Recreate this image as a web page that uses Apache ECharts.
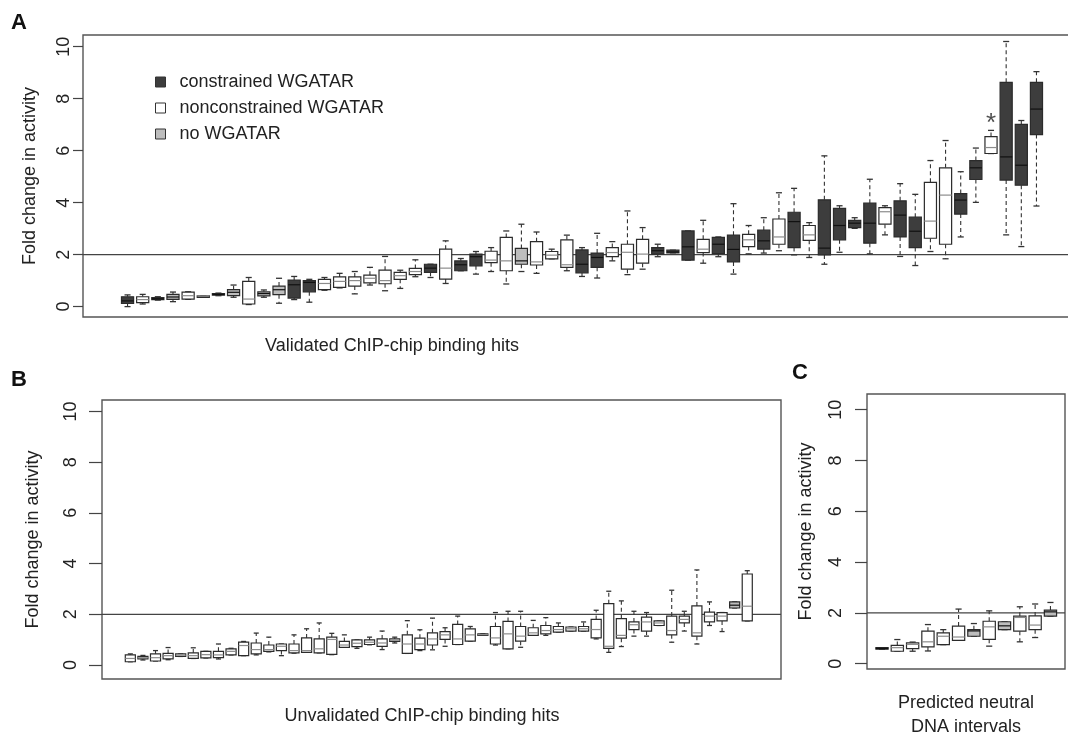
<!DOCTYPE html>
<html>
<head>
<meta charset="utf-8">
<title>Fold change in activity</title>
<script src="https://cdn.jsdelivr.net/npm/echarts@6/dist/echarts.min.js"></script>
<style>
  html, body { margin: 0; padding: 0; background: #fff; overflow: hidden; }
  /* panel A's frame runs past the right edge of the picture, as in the original crop */
  #chart { width: 1100px; height: 738px; }
</style>
</head>
<body>
<div id="chart"></div>
<script>
// each box: [low whisker, Q1, median, Q3, high whisker]
const boxesA = [
  [0.00, 0.12, 0.22, 0.38, 0.45], [0.10, 0.15, 0.27, 0.38, 0.47], [0.25, 0.27, 0.30, 0.35, 0.38],
  [0.19, 0.28, 0.37, 0.47, 0.56], [0.28, 0.29, 0.42, 0.56, 0.57], [0.39, 0.40, 0.41, 0.41, 0.42],
  [0.42, 0.44, 0.47, 0.50, 0.52], [0.36, 0.42, 0.55, 0.65, 0.83], [0.08, 0.10, 0.29, 0.97, 1.12],
  [0.36, 0.41, 0.50, 0.57, 0.64], [0.13, 0.46, 0.65, 0.79, 1.09], [0.27, 0.33, 0.84, 1.02, 1.16],
  [0.17, 0.57, 0.93, 1.00, 1.05], [0.63, 0.65, 0.89, 1.05, 1.12], [0.72, 0.74, 0.97, 1.14, 1.28],
  [0.49, 0.79, 1.00, 1.14, 1.35], [0.83, 0.91, 1.09, 1.21, 1.51], [0.61, 0.88, 1.00, 1.40, 1.93],
  [0.70, 1.05, 1.19, 1.32, 1.40], [1.15, 1.23, 1.35, 1.47, 1.80], [1.12, 1.32, 1.48, 1.63, 1.63],
  [0.89, 1.06, 1.48, 2.21, 2.53], [1.38, 1.38, 1.61, 1.76, 1.85], [1.25, 1.57, 1.92, 2.02, 2.12],
  [1.35, 1.69, 1.79, 2.13, 2.27], [0.87, 1.38, 1.76, 2.66, 2.91], [1.35, 1.63, 1.76, 2.24, 3.17],
  [1.28, 1.60, 1.72, 2.50, 2.87], [1.84, 1.84, 1.98, 2.12, 2.21], [1.38, 1.51, 1.61, 2.57, 2.75],
  [1.16, 1.30, 1.63, 2.18, 2.27], [1.10, 1.51, 1.89, 2.06, 2.82], [1.76, 1.92, 2.08, 2.27, 2.50],
  [1.23, 1.44, 2.09, 2.40, 3.68], [1.44, 1.67, 2.02, 2.59, 3.04], [1.92, 2.02, 2.15, 2.27, 2.40],
  [2.07, 2.07, 2.10, 2.17, 2.17], [1.79, 1.79, 2.30, 2.91, 2.91], [1.67, 2.08, 2.21, 2.59, 3.32],
  [1.92, 2.04, 2.40, 2.66, 2.68], [1.25, 1.72, 2.20, 2.75, 3.96], [2.03, 2.31, 2.57, 2.78, 3.12],
  [2.06, 2.21, 2.53, 2.94, 3.42], [2.15, 2.40, 2.68, 3.37, 4.38], [1.99, 2.27, 3.27, 3.63, 4.55],
  [1.89, 2.55, 2.76, 3.12, 3.23], [1.63, 1.99, 2.25, 4.11, 5.80], [2.09, 2.57, 3.12, 3.78, 3.88],
  [3.01, 3.04, 3.21, 3.32, 3.42], [2.03, 2.44, 3.21, 3.98, 4.90], [2.76, 3.17, 3.65, 3.81, 3.88],
  [1.93, 2.68, 3.52, 4.07, 4.73], [1.58, 2.27, 2.90, 3.44, 4.32], [2.12, 2.63, 3.29, 4.78, 5.62],
  [1.84, 2.40, 4.29, 5.34, 6.39], [2.68, 3.56, 4.10, 4.35, 5.19], [4.01, 4.89, 5.34, 5.62, 6.10],
  [5.89, 5.89, 6.12, 6.54, 6.78], [2.76, 4.87, 5.76, 8.63, 10.20], [2.31, 4.67, 5.44, 7.01, 7.16],
  [3.87, 6.62, 7.60, 8.63, 9.04]
];
// c = constrained WGATAR, n = nonconstrained WGATAR, x = no WGATAR
const groupsA = [
  'c','n','c','x','n','n','c','x','n','x',
  'x','c','c','n','n','n','n','n','n','n',
  'c','n','c','c','n','n','x','n','n','n',
  'c','c','n','n','n','c','c','c','n','c',
  'c','n','c','n','c','n','c','c','c','c',
  'n','c','c','n','n','c','c','n','c','c',
  'c'
];
const starA = [58, 7.05];

const boxesB = [
  [0.13, 0.13, 0.26, 0.40, 0.44], [0.20, 0.24, 0.29, 0.34, 0.38], [0.16, 0.16, 0.29, 0.44, 0.57],
  [0.21, 0.24, 0.37, 0.46, 0.69], [0.34, 0.34, 0.39, 0.44, 0.44], [0.26, 0.26, 0.37, 0.48, 0.68],
  [0.28, 0.28, 0.41, 0.54, 0.54], [0.24, 0.29, 0.40, 0.54, 0.83], [0.40, 0.40, 0.54, 0.64, 0.66],
  [0.37, 0.37, 0.77, 0.90, 0.93], [0.40, 0.44, 0.61, 0.87, 1.26], [0.52, 0.54, 0.61, 0.79, 1.10],
  [0.37, 0.57, 0.74, 0.83, 0.83], [0.47, 0.48, 0.57, 0.83, 1.19], [0.50, 0.50, 0.57, 1.07, 1.43],
  [0.48, 0.48, 0.64, 1.03, 1.66], [0.41, 0.42, 1.01, 1.10, 1.25], [0.70, 0.70, 0.79, 0.93, 1.19],
  [0.66, 0.73, 0.86, 0.99, 0.99], [0.80, 0.81, 0.90, 0.99, 1.10], [0.61, 0.74, 0.87, 1.03, 1.34],
  [0.87, 0.93, 0.98, 1.03, 1.10], [0.46, 0.46, 0.83, 1.19, 1.75], [0.57, 0.61, 0.83, 1.06, 1.39],
  [0.60, 0.79, 1.03, 1.27, 1.85], [0.74, 1.01, 1.19, 1.32, 1.47], [0.81, 0.81, 1.03, 1.60, 1.93],
  [0.94, 0.94, 1.19, 1.43, 1.52], [1.17, 1.17, 1.20, 1.23, 1.23], [0.79, 0.83, 1.07, 1.52, 2.07],
  [0.64, 0.64, 1.23, 1.72, 2.12], [0.70, 0.94, 1.14, 1.52, 2.12], [1.17, 1.17, 1.27, 1.47, 1.76],
  [1.17, 1.23, 1.36, 1.56, 1.87], [1.30, 1.30, 1.40, 1.52, 1.66], [1.34, 1.34, 1.43, 1.50, 1.50],
  [1.34, 1.34, 1.43, 1.52, 1.70], [1.03, 1.07, 1.40, 1.80, 2.16], [0.50, 0.66, 0.74, 2.42, 2.91],
  [0.73, 1.06, 1.17, 1.83, 2.53], [1.14, 1.40, 1.59, 1.70, 2.12], [1.14, 1.34, 1.70, 1.89, 2.07],
  [1.56, 1.56, 1.66, 1.74, 1.74], [0.90, 1.19, 1.36, 1.93, 2.95], [1.34, 1.66, 1.80, 1.93, 2.12],
  [0.83, 1.14, 1.27, 2.33, 3.75], [1.56, 1.70, 1.93, 2.09, 2.49], [1.32, 1.74, 1.93, 2.07, 2.07],
  [2.25, 2.25, 2.36, 2.49, 2.49], [1.74, 1.74, 2.32, 3.59, 3.72]
];
const groupsB = [
  'n','n','n','n','n','n','n','n','n','n',
  'n','n','n','n','n','n','n','n','n','n',
  'n','n','n','n','n','n','n','n','n','n',
  'n','n','n','n','n','n','n','n','n','n',
  'n','n','n','n','n','n','n','n','x','n'
];

const boxesC = [
  [0.57, 0.57, 0.60, 0.63, 0.63], [0.49, 0.49, 0.63, 0.72, 0.95], [0.49, 0.59, 0.76, 0.82, 0.85],
  [0.50, 0.66, 0.86, 1.28, 1.54], [0.75, 0.75, 1.08, 1.21, 1.34], [0.92, 0.92, 1.05, 1.48, 2.15],
  [1.08, 1.08, 1.29, 1.34, 1.58], [0.69, 0.96, 1.45, 1.67, 2.08], [1.34, 1.34, 1.49, 1.65, 1.65],
  [0.86, 1.28, 1.82, 1.87, 2.24], [1.03, 1.34, 1.52, 1.88, 2.35], [1.87, 1.87, 2.04, 2.11, 2.41]
];
const groupsC = ['c','n','n','n','n','n','x','n','x','n','n','x'];

const yTicks = [0, 2, 4, 6, 8, 10];
const refLine = 2;

const groupNames = { c: 'constrained WGATAR', n: 'nonconstrained WGATAR', x: 'no WGATAR' };
const groupColors = { c: '#3d3d3d', n: '#ffffff', x: '#bdbdbd' };
const font = 'Liberation Sans, Arial, Helvetica, sans-serif';

// panel layout: frame in px, x range in box units, y range
const panels = [
  { boxes: boxesA, groups: groupsA, left: 83, top: 35, width: 998, height: 282, x: [-1.94, 63.94], y: [-0.4, 10.45], margin: 10, nameGap: 44, tick: 10 },
  { boxes: boxesB, groups: groupsB, left: 102, top: 400, width: 679, height: 279, x: [-1.25, 52.68], y: [-0.55, 10.45], margin: 22, nameGap: 60, tick: 13 },
  { boxes: boxesC, groups: groupsC, left: 867, top: 394, width: 198, height: 275, x: [0.02, 12.95], y: [-0.21, 10.62], margin: 22, nameGap: 52, tick: 12 }
];

function renderBox(params, api) {
  const x = api.value(0);
  const lo = api.coord([x, api.value(1)]);
  const q1 = api.coord([x, api.value(2)]);
  const md = api.coord([x, api.value(3)]);
  const q3 = api.coord([x, api.value(4)]);
  const hi = api.coord([x, api.value(5)]);
  const w = api.size([0.8, 0])[0];
  const cx = lo[0];
  const half = w / 2;
  const cap = w / 4;
  const fill = api.visual('color');
  const medColor = fill === groupColors.n ? '#8c8c8c' : '#111';
  const dash = { stroke: '#333', lineWidth: 1.1, lineDash: [4, 3] };
  const solid = { stroke: '#333', lineWidth: 1.3 };
  return {
    type: 'group',
    children: [
      { type: 'line', shape: { x1: cx, y1: q3[1], x2: cx, y2: hi[1] }, style: dash },
      { type: 'line', shape: { x1: cx, y1: q1[1], x2: cx, y2: lo[1] }, style: dash },
      { type: 'line', shape: { x1: cx - cap, y1: hi[1], x2: cx + cap, y2: hi[1] }, style: solid },
      { type: 'line', shape: { x1: cx - cap, y1: lo[1], x2: cx + cap, y2: lo[1] }, style: solid },
      { type: 'rect', shape: { x: cx - half, y: q3[1], width: w, height: Math.max(q1[1] - q3[1], 1.5) },
        style: { fill: fill, stroke: '#2b2b2b', lineWidth: 1.2 } },
      { type: 'line', shape: { x1: cx - half, y1: md[1], x2: cx + half, y2: md[1] }, style: { stroke: medColor, lineWidth: 1.2 } }
    ]
  };
}

const grid = [];
const xAxis = [];
const yAxis = [];
const series = [];

panels.forEach((p, i) => {
  grid.push({ left: p.left, top: p.top, width: p.width, height: p.height, show: true,
    borderColor: '#555', borderWidth: 1.4, backgroundColor: 'transparent' });
  xAxis.push({ gridIndex: i, type: 'value', min: p.x[0], max: p.x[1], show: false });
  yAxis.push({
    gridIndex: i, type: 'value', min: p.y[0], max: p.y[1],
    name: 'Fold change in activity', nameLocation: 'middle', nameGap: p.nameGap, nameRotate: 90,
    nameTextStyle: { fontSize: 18, color: '#222', fontFamily: font },
    axisLine: { show: false, onZero: false }, splitLine: { show: false },
    axisTick: { show: true, length: p.tick, customValues: yTicks, lineStyle: { color: '#444', width: 1.2 } },
    axisLabel: { rotate: 90, margin: p.margin, customValues: yTicks, fontSize: 18, color: '#222', fontFamily: font }
  });
  series.push({
    type: 'line', xAxisIndex: i, yAxisIndex: i, z: 1, silent: true, symbol: 'none',
    data: [[p.x[0], refLine], [p.x[1], refLine]],
    lineStyle: { color: '#444', width: 1.3 }
  });
  ['c', 'n', 'x'].forEach(code => {
    const data = [];
    p.boxes.forEach((b, j) => { if (p.groups[j] === code) data.push([j + 1].concat(b)); });
    if (!data.length) return;
    series.push({
      type: 'custom', name: groupNames[code], xAxisIndex: i, yAxisIndex: i, z: 2, silent: true,
      itemStyle: { color: groupColors[code] },
      encode: { x: 0, y: [1, 2, 3, 4, 5] },
      renderItem: renderBox, data: data
    });
  });
});

series.push({
  type: 'scatter', xAxisIndex: 0, yAxisIndex: 0, z: 3, silent: true,
  data: [starA], symbolSize: 1, itemStyle: { color: 'rgba(0,0,0,0)' },
  label: { show: true, position: 'inside', formatter: '*', fontSize: 26, color: '#222', fontFamily: font }
});

const chart = echarts.init(document.getElementById('chart'));
chart.setOption({
  animation: false,
  backgroundColor: '#fff',
  textStyle: { fontFamily: font },
  grid: grid,
  xAxis: xAxis,
  yAxis: yAxis,
  legend: {
    data: [groupNames.c, groupNames.n, groupNames.x],
    orient: 'vertical', left: 150, top: 68, icon: 'rect',
    itemWidth: 10, itemHeight: 10, itemGap: 8, selectedMode: false,
    itemStyle: { borderColor: '#333', borderWidth: 1 },
    textStyle: { fontSize: 18, color: '#222', lineHeight: 18, padding: [0, 0, 0, 9], fontFamily: font }
  },
  graphic: [
    { type: 'text', left: 11, top: 12, style: { text: 'A', fontSize: 22, fontWeight: 'bold', fill: '#111', fontFamily: font } },
    { type: 'text', left: 11, top: 369, style: { text: 'B', fontSize: 22, fontWeight: 'bold', fill: '#111', fontFamily: font } },
    { type: 'text', left: 792, top: 362, style: { text: 'C', fontSize: 22, fontWeight: 'bold', fill: '#111', fontFamily: font } },
    { type: 'text', x: 392, y: 346, style: { text: 'Validated ChIP-chip binding hits', fontSize: 18, fill: '#222', align: 'center', verticalAlign: 'middle', fontFamily: font } },
    { type: 'text', x: 422, y: 716, style: { text: 'Unvalidated ChIP-chip binding hits', fontSize: 18, fill: '#222', align: 'center', verticalAlign: 'middle', fontFamily: font } },
    { type: 'text', x: 966, y: 715, style: { text: 'Predicted neutral\nDNA intervals', fontSize: 18, lineHeight: 24, fill: '#222', align: 'center', verticalAlign: 'middle', fontFamily: font } }
  ],
  series: series
});
</script>
</body>
</html>
